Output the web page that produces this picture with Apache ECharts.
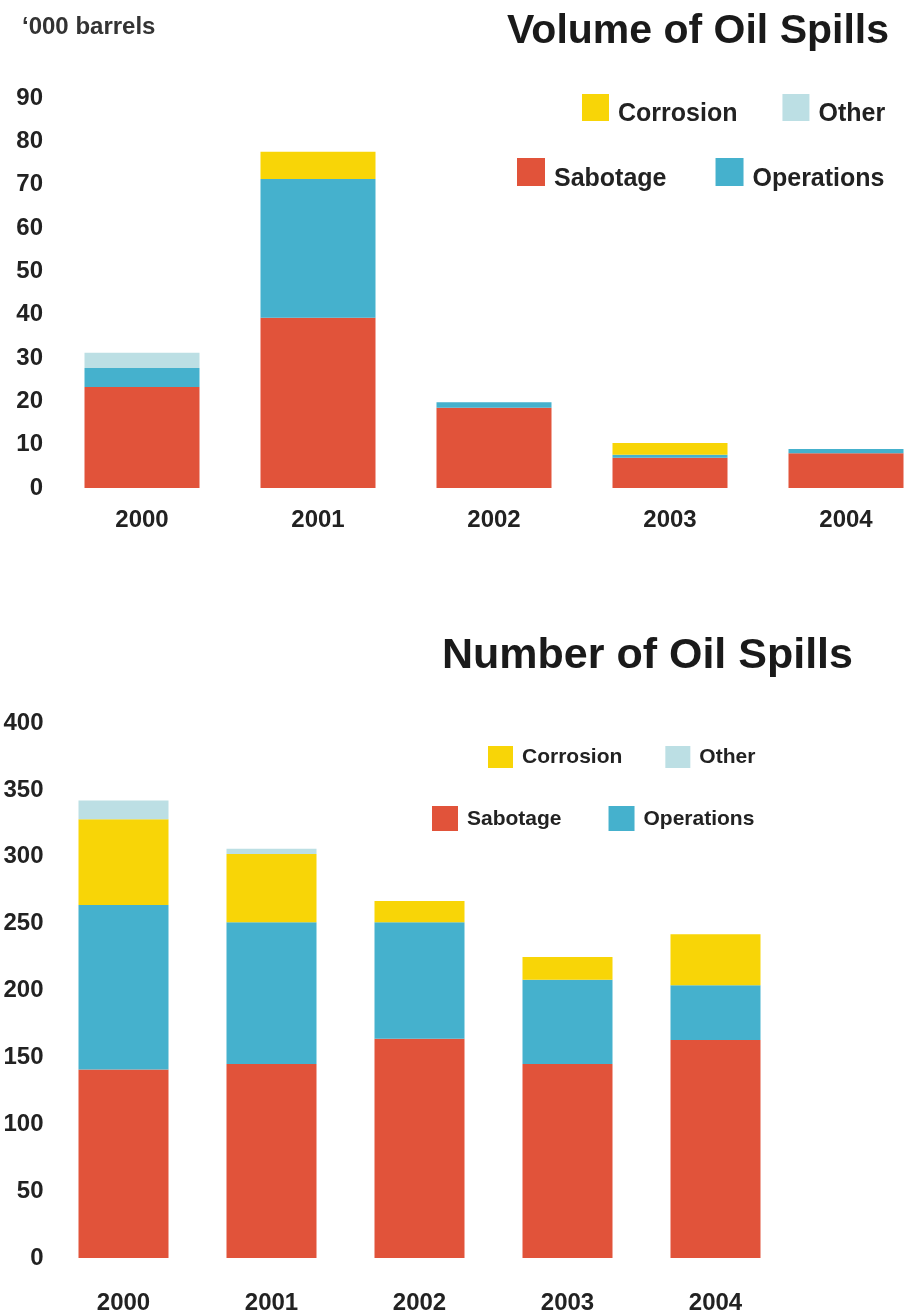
<!DOCTYPE html>
<html>
<head>
<meta charset="utf-8">
<script src="https://cdn.jsdelivr.net/npm/echarts@6/dist/echarts.min.js"></script>
<style>
  html, body { margin: 0; padding: 0; background: #fff; }
  #chart { width: 909px; height: 1316px; }
</style>
</head>
<body>
<div id="chart"></div>
<script>
// categories
const years = ['2000', '2001', '2002', '2003', '2004'];

// Volume of oil spills ('000 barrels)
const volSabotage = [23.3, 39.3, 18.5, 7, 8];
const volOperations = [4.4, 32, 1.3, 0.7, 1];
const volCorrosion = [0, 6.3, 0, 2.7, 0];
const volOther = [3.5, 0, 0, 0, 0];

// Number of oil spills
const numSabotage = [141, 145, 164, 145, 163];
const numOperations = [123, 106, 87, 63, 41];
const numCorrosion = [64, 51, 16, 17, 38];
const numOther = [14, 4, 0, 0, 0];

const FONT = 'Liberation Sans';
const COLORS = {
  Sabotage: '#e1533a',
  Operations: '#45b1cd',
  Corrosion: '#f8d507',
  Other: '#bcdfe4',
};

const chart = echarts.init(document.getElementById('chart'));

function bar(name, data, idx, stack, width) {
  return {
    name: name,
    type: 'bar',
    stack: stack,
    xAxisIndex: idx,
    yAxisIndex: idx,
    barWidth: width,
    data: data,
    itemStyle: { color: COLORS[name] },
    emphasis: { disabled: true },
  };
}

// legend text is pushed down / right with rich-text padding
function legend(names, left, top, size, w, h, gap, padTop) {
  return {
    data: names,
    left: left,
    top: top,
    orient: 'horizontal',
    padding: 0,
    icon: 'rect',
    itemWidth: w,
    itemHeight: h,
    itemGap: gap,
    selectedMode: false,
    formatter: '{t|{name}}',
    textStyle: {
      rich: {
        t: {
          fontFamily: FONT,
          fontWeight: 'bold',
          fontSize: size,
          color: '#222',
          padding: [padTop, 0, 0, 4],
        },
      },
    },
  };
}

const axisLabelStyle = {
  fontFamily: FONT,
  fontWeight: 'bold',
  fontSize: 24,
  color: '#222',
};

const option = {
  animation: false,
  backgroundColor: '#fff',
  title: [
    {
      text: '\u2018000 barrels',
      left: 22,
      top: 15,
      padding: 0,
      textStyle: { fontFamily: FONT, fontWeight: 'bold', fontSize: 24, color: '#333' },
    },
    {
      text: 'Volume of Oil Spills',
      right: 20,
      top: 11,
      padding: 0,
      textStyle: { fontFamily: FONT, fontWeight: 'bold', fontSize: 41, color: '#1a1a1a' },
    },
    {
      text: 'Number of Oil Spills',
      left: 442,
      top: 635,
      padding: 0,
      textStyle: { fontFamily: FONT, fontWeight: 'bold', fontSize: 43, color: '#1a1a1a' },
    },
  ],
  legend: [
    legend(['Corrosion', 'Other'], 582, 94, 25, 27, 27, 45, 14),
    legend(['Sabotage', 'Operations'], 517, 158, 25, 28, 28, 49, 14),
    legend(['Corrosion', 'Other'], 488, 746, 21, 25, 22, 43, 0),
    legend(['Sabotage', 'Operations'], 432, 806, 21, 26, 25, 47, 2),
  ],
  grid: [
    { left: 54, top: 98, right: -25, height: 390, outerBoundsMode: 'none' },
    { left: 49.5, top: 723, width: 740, height: 535, outerBoundsMode: 'none' },
  ],
  xAxis: [
    {
      type: 'category',
      gridIndex: 0,
      data: years,
      axisLine: { show: false },
      axisTick: { show: false },
      axisLabel: Object.assign({ margin: 20 }, axisLabelStyle),
    },
    {
      type: 'category',
      gridIndex: 1,
      data: years,
      axisLine: { show: false },
      axisTick: { show: false },
      axisLabel: Object.assign({ margin: 33 }, axisLabelStyle),
    },
  ],
  yAxis: [
    {
      type: 'value',
      gridIndex: 0,
      min: 0,
      max: 90,
      interval: 10,
      axisLine: { show: false },
      axisTick: { show: false },
      splitLine: { show: false },
      axisLabel: Object.assign({ margin: 11 }, axisLabelStyle),
    },
    {
      type: 'value',
      gridIndex: 1,
      min: 0,
      max: 400,
      interval: 50,
      axisLine: { show: false },
      axisTick: { show: false },
      splitLine: { show: false },
      axisLabel: Object.assign({ margin: 6 }, axisLabelStyle),
    },
  ],
  series: [
    bar('Sabotage', volSabotage, 0, 'vol', 115),
    bar('Operations', volOperations, 0, 'vol', 115),
    bar('Corrosion', volCorrosion, 0, 'vol', 115),
    bar('Other', volOther, 0, 'vol', 115),
    bar('Sabotage', numSabotage, 1, 'num', 90),
    bar('Operations', numOperations, 1, 'num', 90),
    bar('Corrosion', numCorrosion, 1, 'num', 90),
    bar('Other', numOther, 1, 'num', 90),
  ],
};

chart.setOption(option);
</script>
</body>
</html>
